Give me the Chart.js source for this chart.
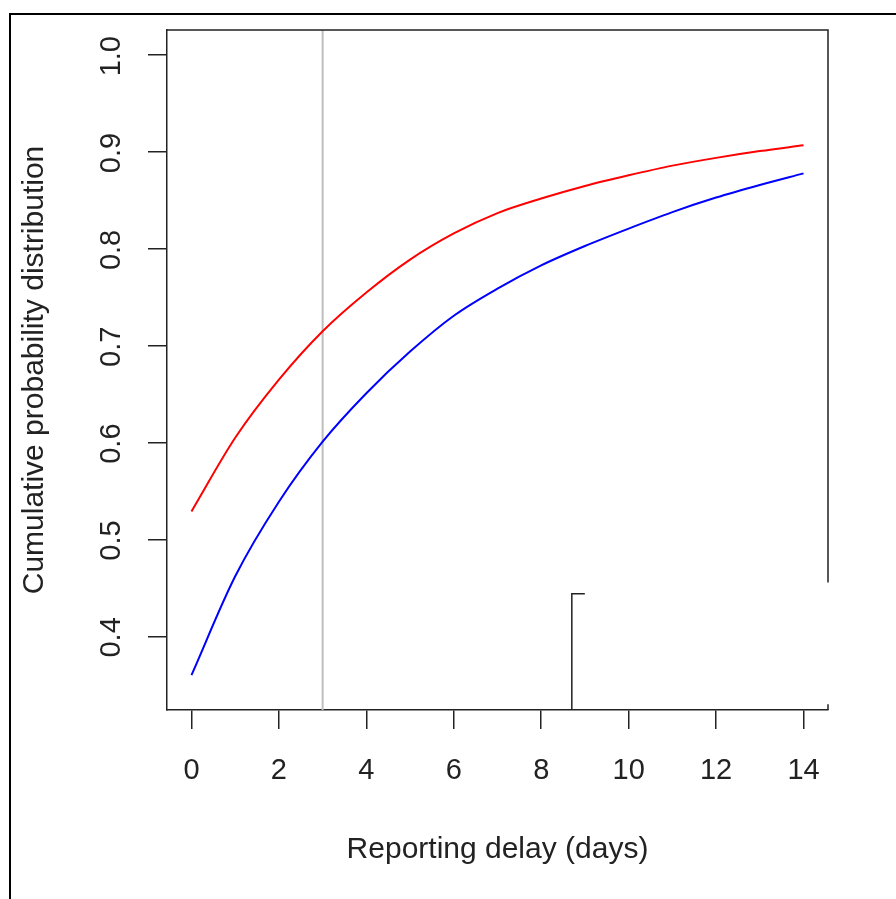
<!DOCTYPE html>
<html lang="en">
<head>
    <meta charset="UTF-8">
    <script src="https://cdn.jsdelivr.net/npm/chart.js"></script>
    <title>Reporting delay</title>
    <style>
        body { margin: 0; background: #fff; }
        #wrap { width: 896px; height: 899px; }
    </style>
</head>
<body>
<div id="wrap"><canvas id="myChart" width="896" height="899"></canvas></div>
<script>
    // data
    const delays = [0, 1, 2, 3, 4, 5, 6, 7, 8, 9, 10, 11, 12, 13, 14];
    const redCdf = [0.529, 0.605, 0.665, 0.715, 0.755, 0.789, 0.816, 0.837, 0.852, 0.865, 0.876, 0.886, 0.894, 0.901, 0.907];
    const blueCdf = [0.360, 0.462, 0.539, 0.601, 0.651, 0.694, 0.731, 0.759, 0.783, 0.803, 0.821, 0.838, 0.853, 0.866, 0.878];
    const xTicks = [0, 2, 4, 6, 8, 10, 12, 14];
    const yTicks = [0.4, 0.5, 0.6, 0.7, 0.8, 0.9, 1.0];
    const cutoffDay = 3;
    const xRange = [-0.56, 14.56];
    const yRange = [0.324, 1.026];

    const font = 'Liberation Sans, Arial, sans-serif';

    // R style box, rotated y labels, outer frame, and the clipped white box
    const rStyle = {
        id: 'rStyle',
        afterDraw(chart) {
            const ctx = chart.ctx, a = chart.chartArea;
            const xs = chart.scales.x, ys = chart.scales.y;
            ctx.save();
            // white box covering the lower right corner
            const bx = xs.getPixelForValue(8.7);
            const by = ys.getPixelForValue(0.444);
            ctx.fillStyle = '#fff';
            ctx.fillRect(bx + 1, ys.getPixelForValue(0.4557), chart.width - bx, ys.getPixelForValue(0.330) - ys.getPixelForValue(0.4557));
            ctx.fillRect(bx + 1, by, chart.width - bx, a.bottom - by - 1);
            // box top/right
            ctx.strokeStyle = '#222';
            ctx.lineWidth = 1.5;
            ctx.beginPath();
            ctx.moveTo(a.left, a.top);
            ctx.lineTo(a.right, a.top);
            ctx.lineTo(a.right, ys.getPixelForValue(0.4557));
            ctx.moveTo(a.right, ys.getPixelForValue(0.330));
            ctx.lineTo(a.right, a.bottom);
            ctx.stroke();
            // corner of the white box
            ctx.beginPath();
            ctx.moveTo(bx + 13, by);
            ctx.lineTo(bx, by);
            ctx.lineTo(bx, a.bottom);
            ctx.stroke();
            // outer frame (top and left)
            ctx.strokeStyle = '#000';
            ctx.lineWidth = 2;
            ctx.beginPath();
            ctx.moveTo(10, chart.height);
            ctx.lineTo(10, 14);
            ctx.lineTo(chart.width, 14);
            ctx.stroke();
            // y tick labels, rotated
            ctx.fillStyle = '#222';
            ctx.font = '29px ' + font;
            ctx.textAlign = 'center';
            ctx.textBaseline = 'middle';
            yTicks.forEach(v => {
                ctx.save();
                ctx.translate(112, ys.getPixelForValue(v) + 1);
                ctx.rotate(-Math.PI / 2);
                ctx.fillText(v.toFixed(1), 0, 0);
                ctx.restore();
            });
            ctx.restore();
        }
    };

    new Chart(document.getElementById('myChart'), {
        type: 'line',
        data: {
            datasets: [
                {
                    data: delays.map((d, i) => ({x: d, y: redCdf[i]})),
                    borderColor: '#ff0000', borderWidth: 2, pointRadius: 0,
                    cubicInterpolationMode: 'monotone'
                },
                {
                    data: delays.map((d, i) => ({x: d, y: blueCdf[i]})),
                    borderColor: '#0000ff', borderWidth: 2, pointRadius: 0,
                    cubicInterpolationMode: 'monotone'
                },
                {
                    data: [{x: cutoffDay, y: yRange[0]}, {x: cutoffDay, y: yRange[1]}],
                    borderColor: '#bebebe', borderWidth: 2, pointRadius: 0
                }
            ]
        },
        options: {
            responsive: false,
            animation: false,
            layout: { padding: { top: 30, right: 68, left: 0, bottom: 0 } },
            plugins: { legend: { display: false }, tooltip: { enabled: false } },
            scales: {
                x: {
                    type: 'linear',
                    min: xRange[0], max: xRange[1],
                    afterBuildTicks: s => { s.ticks = xTicks.map(v => ({value: v})); },
                    afterFit: s => { s.height = 189; },
                    grid: { drawOnChartArea: false, drawTicks: true, tickLength: 19, color: '#222', lineWidth: 1.5 },
                    border: { display: true, color: '#222', width: 1.5 },
                    ticks: { color: '#222', font: { size: 29, family: font }, padding: 25, maxRotation: 0 },
                    title: { display: true, text: 'Reporting delay (days)', color: '#222', font: { size: 30, family: font }, padding: { bottom: 31 } }
                },
                y: {
                    type: 'linear',
                    min: yRange[0], max: yRange[1],
                    afterBuildTicks: s => { s.ticks = yTicks.map(v => ({value: v})); },
                    afterFit: s => { s.width = 167; },
                    grid: { drawOnChartArea: false, drawTicks: true, tickLength: 19, color: '#222', lineWidth: 1.5 },
                    border: { display: true, color: '#222', width: 1.5 },
                    ticks: { display: false },
                    title: { display: true, text: 'Cumulative probability distribution', color: '#222', font: { size: 30, family: font }, padding: { top: 17 } }
                }
            }
        },
        plugins: [rStyle]
    });
</script>
</body>
</html>
